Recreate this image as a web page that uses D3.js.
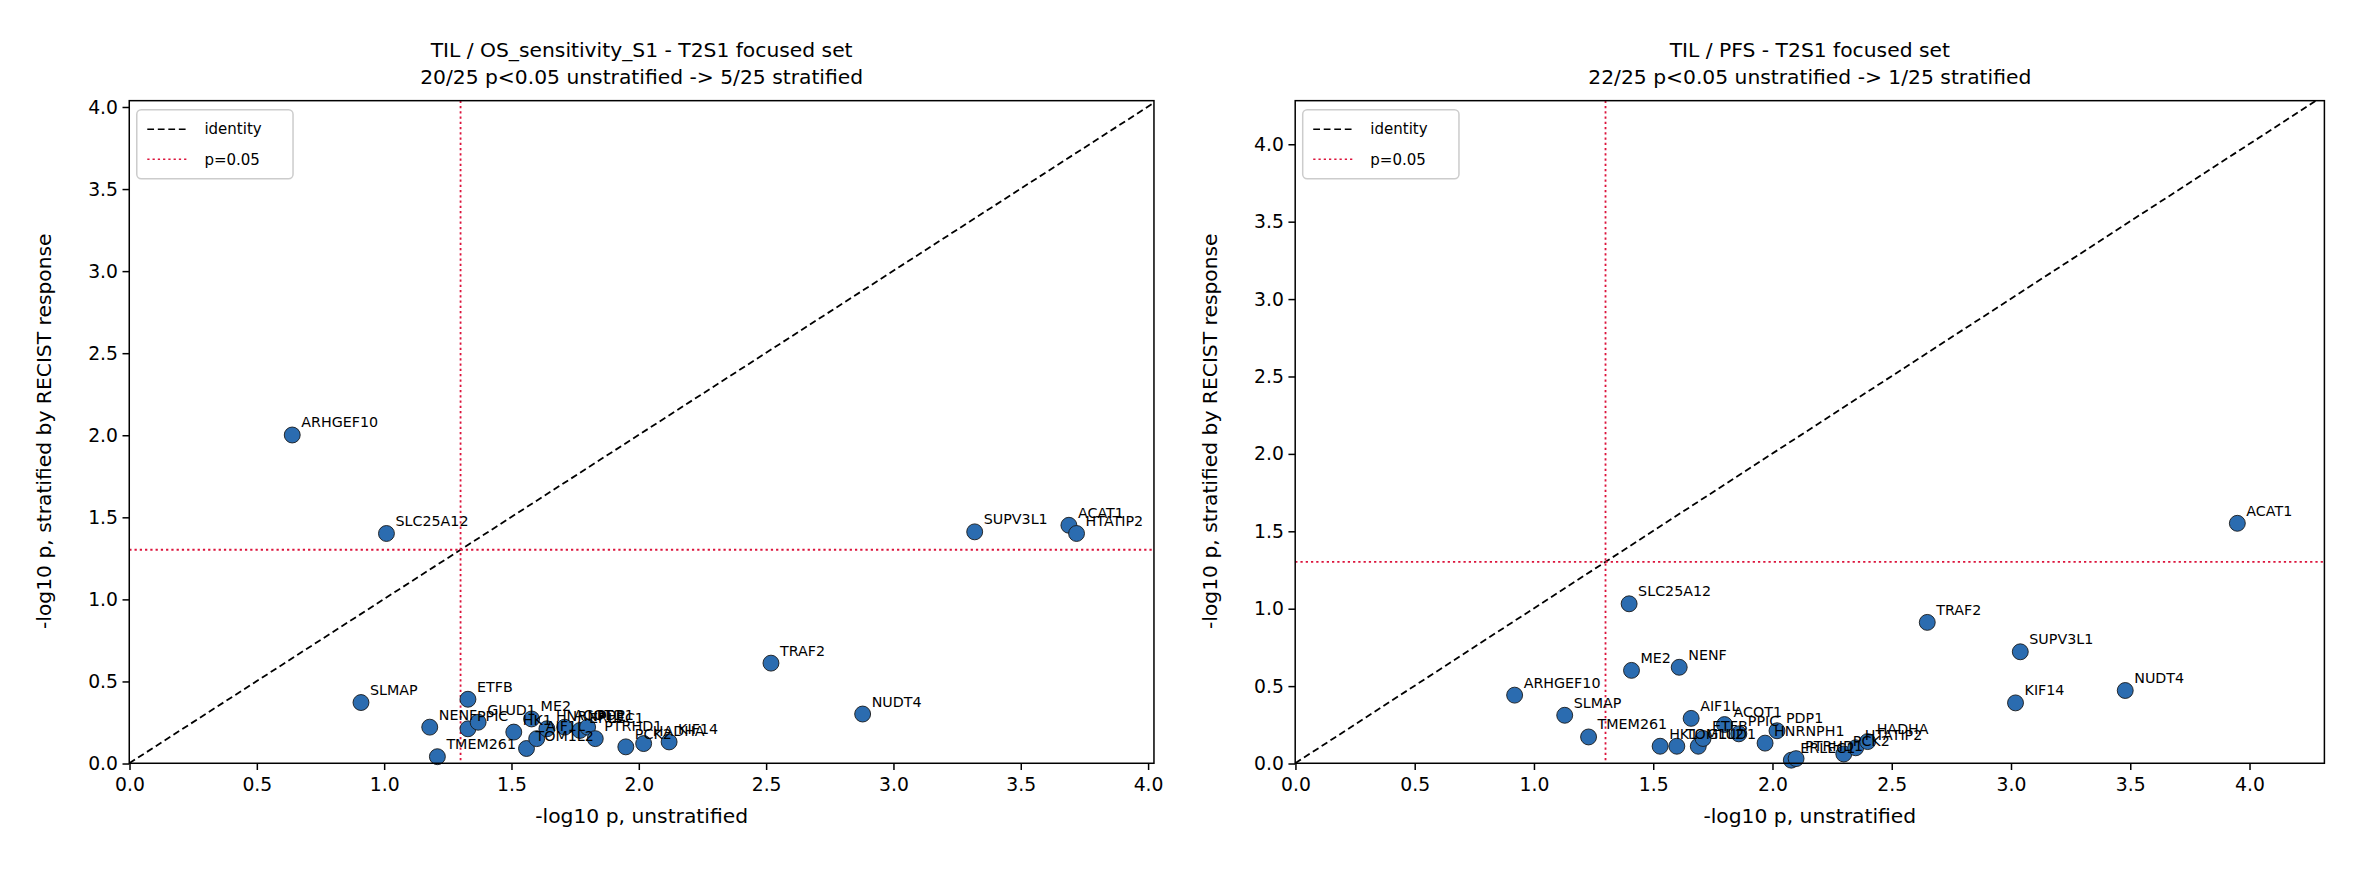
<!DOCTYPE html><html><head><meta charset="utf-8"><script src="https://cdn.jsdelivr.net/npm/d3@7"></script>
<style>body{margin:0;background:#fff}text{font-family:"DejaVu Sans",sans-serif}</style></head><body>
<svg id="c" width="2356" height="874" viewBox="0 0 1568 581.7"></svg>
<script>
const genesL=["ARHGEF10","SLC25A12","SUPV3L1","ACAT1","HTATIP2","TRAF2","NUDT4","SLMAP","ETFB","NENF","PPIC","GLUD1","ME2","HK1","TMEM261","TOM1L2","AIF1L","HNRNPH1","ACOT1","ERLEC1","PDP1","PTRHD1","PCK2","HADHA","KIF14"];
const xL=[0.64,1.01,3.32,3.69,3.72,2.52,2.88,0.91,1.33,1.18,1.33,1.37,1.58,1.51,1.21,1.56,1.60,1.64,1.71,1.77,1.80,1.83,1.95,2.02,2.12];
const yL=[2.00,1.40,1.41,1.45,1.40,0.61,0.30,0.37,0.39,0.22,0.21,0.25,0.27,0.19,0.04,0.09,0.15,0.21,0.22,0.20,0.22,0.15,0.10,0.12,0.13];
const genesR=["ACAT1","TRAF2","SUPV3L1","NUDT4","KIF14","SLC25A12","ME2","NENF","ARHGEF10","SLMAP","TMEM261","AIF1L","HK1","TOM1L2","GLUD1","ETFB","ACOT1","PPIC","PDP1","HNRNPH1","ERLEC1","PTRHD1","PCK2","HTATIP2","HADHA"];
const xR=[3.95,2.65,3.04,3.48,3.02,1.40,1.41,1.61,0.92,1.13,1.23,1.66,1.53,1.60,1.69,1.71,1.80,1.86,2.02,1.97,2.08,2.10,2.30,2.35,2.40];
const yR=[1.55,0.91,0.72,0.47,0.39,1.03,0.60,0.62,0.44,0.31,0.17,0.29,0.11,0.11,0.11,0.16,0.25,0.19,0.21,0.13,0.02,0.03,0.06,0.10,0.14];
const ticks=[0,0.5,1,1.5,2,2.5,3,3.5,4];
const svg=d3.select("#c");
function panel(o){
  const g=svg.append("g");
  const x=d3.scaleLinear().domain([0,o.xmax]).range([o.l,o.r]);
  const y=d3.scaleLinear().domain([0,o.ymax]).range([508,67]);
  const m=Math.min(o.xmax,o.ymax);
  g.append("line").attr("x1",x(0)).attr("y1",y(0)).attr("x2",x(m)).attr("y2",y(m)).attr("stroke","#000").attr("stroke-width",1.2).attr("stroke-dasharray","4.5,2.5");
  const p=-Math.log10(0.05);
  g.append("line").attr("x1",x(p)).attr("x2",x(p)).attr("y1",67).attr("y2",508).attr("stroke","crimson").attr("stroke-width",1.2).attr("stroke-dasharray","1.5,2");
  g.append("line").attr("y1",y(p)).attr("y2",y(p)).attr("x1",o.l).attr("x2",o.r).attr("stroke","crimson").attr("stroke-width",1.2).attr("stroke-dasharray","1.5,2");
  o.xs.forEach((v,i)=>{
    g.append("circle").attr("cx",x(v)).attr("cy",y(o.ys[i])).attr("r",5.3).attr("fill","#2b6cb0").attr("stroke","#1a1a1a").attr("stroke-width",0.6);
  });
  o.xs.forEach((v,i)=>{
    g.append("text").attr("x",x(v)+6).attr("y",y(o.ys[i])-5).attr("font-size",9.5).text(o.names[i]);
  });
  g.append("g").attr("transform","translate(0,508)").call(d3.axisBottom(x).tickValues(ticks).tickFormat(d3.format(".1f")).tickSize(4.5).tickSizeOuter(0)).call(a=>{a.select(".domain").remove();a.selectAll("text").attr("font-size",12.5).attr("font-family","DejaVu Sans").attr("dy","0.9em")});
  g.append("g").attr("transform",`translate(${o.l},0)`).call(d3.axisLeft(y).tickValues(ticks).tickFormat(d3.format(".1f")).tickSize(4.5).tickSizeOuter(0)).call(a=>{a.select(".domain").remove();a.selectAll("text").attr("font-size",12.5).attr("font-family","DejaVu Sans")});
  g.append("rect").attr("x",o.l).attr("y",67).attr("width",o.r-o.l).attr("height",441).attr("fill","none").attr("stroke","#000").attr("stroke-width",1);
  g.append("text").attr("x",(o.l+o.r)/2).attr("y",548).attr("text-anchor","middle").attr("font-size",13.5).text("-log10 p, unstratified");
  g.append("text").attr("transform",`translate(${o.l-52},${287}) rotate(-90)`).attr("text-anchor","middle").attr("font-size",13.5).text("-log10 p, stratified by RECIST response");
  g.append("text").attr("x",(o.l+o.r)/2).attr("y",38).attr("text-anchor","middle").attr("font-size",13.5).text(o.t1);
  g.append("text").attr("x",(o.l+o.r)/2).attr("y",56).attr("text-anchor","middle").attr("font-size",13.5).text(o.t2);
  const lg=g.append("g").attr("transform",`translate(${o.l+5},73)`);
  lg.append("rect").attr("width",104).attr("height",46).attr("rx",3).attr("fill","#fff").attr("stroke","#ccc");
  lg.append("line").attr("x1",7).attr("x2",35).attr("y1",13).attr("y2",13).attr("stroke","#000").attr("stroke-dasharray","4.5,2.5");
  lg.append("text").attr("x",45).attr("y",16.5).attr("font-size",10).text("identity");
  lg.append("line").attr("x1",7).attr("x2",35).attr("y1",33).attr("y2",33).attr("stroke","crimson").attr("stroke-dasharray","1.5,2");
  lg.append("text").attr("x",45).attr("y",36.5).attr("font-size",10).text("p=0.05");
}
panel({l:86,r:768,xmax:4.024,ymax:4.037,xs:xL,ys:yL,names:genesL,t1:"TIL / OS_sensitivity_S1 - T2S1 focused set",t2:"20/25 p<0.05 unstratified -> 5/25 stratified"});
panel({l:862,r:1547,xmax:4.315,ymax:4.28,xs:xR,ys:yR,names:genesR,t1:"TIL / PFS - T2S1 focused set",t2:"22/25 p<0.05 unstratified -> 1/25 stratified"});
</script></body></html>
